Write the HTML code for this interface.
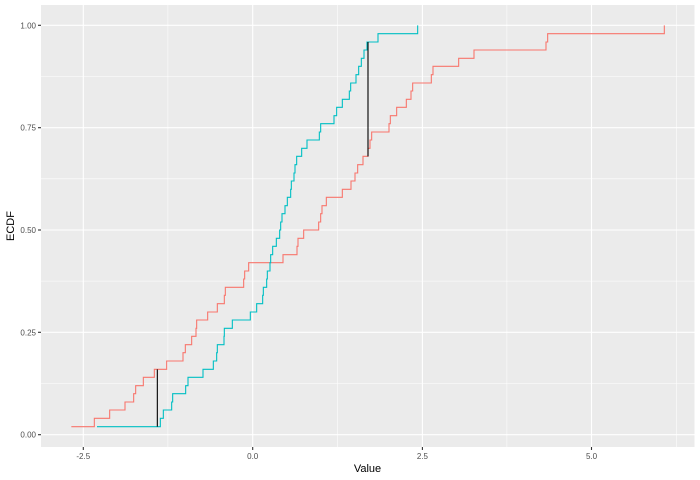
<!DOCTYPE html>
<html><head><style>body{margin:0;background:#fff}svg{display:block}</style></head>
<body>
<svg width="700" height="480" xmlns="http://www.w3.org/2000/svg" font-family="Liberation Sans, sans-serif">
<rect x="0" y="0" width="700" height="480" fill="#fff"/>
<rect x="41" y="5" width="653.5" height="442" fill="#EBEBEB"/>
<g stroke="#fff" stroke-width="0.55">
<line x1="41" x2="694.5" y1="76.4" y2="76.4"/><line x1="41" x2="694.5" y1="178.8" y2="178.8"/>
<line x1="41" x2="694.5" y1="281.1" y2="281.1"/><line x1="41" x2="694.5" y1="383.5" y2="383.5"/>
<line y1="5" y2="447" x1="167.9" x2="167.9"/><line y1="5" y2="447" x1="337.6" x2="337.6"/>
<line y1="5" y2="447" x1="506.9" x2="506.9"/><line y1="5" y2="447" x1="676.3" x2="676.3"/>
</g>
<g stroke="#fff" stroke-width="1.1">
<line x1="41" x2="694.5" y1="25.3" y2="25.3"/><line x1="41" x2="694.5" y1="127.7" y2="127.7"/>
<line x1="41" x2="694.5" y1="230" y2="230"/><line x1="41" x2="694.5" y1="332.3" y2="332.3"/>
<line x1="41" x2="694.5" y1="434.7" y2="434.7"/>
<line y1="5" y2="447" x1="83.3" x2="83.3"/><line y1="5" y2="447" x1="252.7" x2="252.7"/>
<line y1="5" y2="447" x1="422.4" x2="422.4"/><line y1="5" y2="447" x1="591.5" x2="591.5"/>
</g>
<g transform="scale(0.33333)" fill="none" stroke-width="3.3">
<path stroke="#F8766D" d="M214,1280 H283 V1255 H329 V1230 H375 V1206 H401 V1181 H407 V1157 H430 V1132 H463 V1108 H500 V1083 H549 V1058 H556 V1034 H575 V1009 H588 V985 H590 V960 H623 V936 H652 V911 H673 V886 H676 V862 H731 V837 H734 V813 H746 V788 H849 V764 H891 V739 H894 V715 H911 V690 H956 V666 H962 V641 H966 V617 H979 V592 H1027 V568 H1053 V543 H1065 V519 H1073 V494 H1089 V469 H1104 V445 H1110 V420 H1115 V396 H1167 V371 H1171 V347 H1190 V322 H1219 V298 H1233 V273 H1238 V249 H1294 V224 H1299 V199 H1376 V175 H1422 V150 H1638 V126 H1643 V101 H1993 V76"/>
<path stroke="#00BFC4" d="M291,1280 H481 V1255 H490 V1230 H515 V1206 H518 V1181 H557 V1157 H564 V1132 H609 V1108 H640 V1083 H650 V1058 H652 V1034 H672 V1009 H673 V985 H697 V960 H751 V936 H770 V911 H788 V886 H790 V862 H800 V837 H802 V813 H810 V788 H812 V764 H818 V739 H829 V715 H839 V690 H842 V666 H846 V641 H855 V617 H862 V592 H872 V568 H874 V543 H882 V519 H885 V494 H890 V469 H905 V445 H921 V420 H958 V396 H962 V371 H1002 V347 H1010 V322 H1027 V298 H1048 V273 H1052 V249 H1068 V224 H1076 V199 H1084 V175 H1092 V150 H1101 V126 H1134 V101 H1253 V76"/>
<path stroke="#000" stroke-width="3.3" d="M472,1280 V1108 M1104,126 V469"/>
</g>
<g stroke="#333" stroke-width="1.1">
<line x1="38" x2="41" y1="25.3" y2="25.3"/><line x1="38" x2="41" y1="127.7" y2="127.7"/>
<line x1="38" x2="41" y1="230" y2="230"/><line x1="38" x2="41" y1="332.3" y2="332.3"/>
<line x1="38" x2="41" y1="434.7" y2="434.7"/>
<line y1="447" y2="450" x1="83.3" x2="83.3"/><line y1="447" y2="450" x1="252.7" x2="252.7"/>
<line y1="447" y2="450" x1="422.4" x2="422.4"/><line y1="447" y2="450" x1="591.5" x2="591.5"/>
</g>
<g font-size="8" fill="#4d4d4d" text-anchor="end">
<text x="36" y="28.3">1.00</text><text x="36" y="130.7">0.75</text><text x="36" y="233">0.50</text>
<text x="36" y="335.3">0.25</text><text x="36" y="437.7">0.00</text>
</g>
<g font-size="8" fill="#4d4d4d" text-anchor="middle">
<text x="83.3" y="459">-2.5</text><text x="252.7" y="459">0.0</text><text x="422.4" y="459">2.5</text><text x="591.5" y="459">5.0</text>
</g>
<text x="367.5" y="472" font-size="11" text-anchor="middle" fill="#000">Value</text>
<text transform="translate(14,226) rotate(-90)" font-size="11" text-anchor="middle" fill="#000">ECDF</text>
</svg>
</body></html>
